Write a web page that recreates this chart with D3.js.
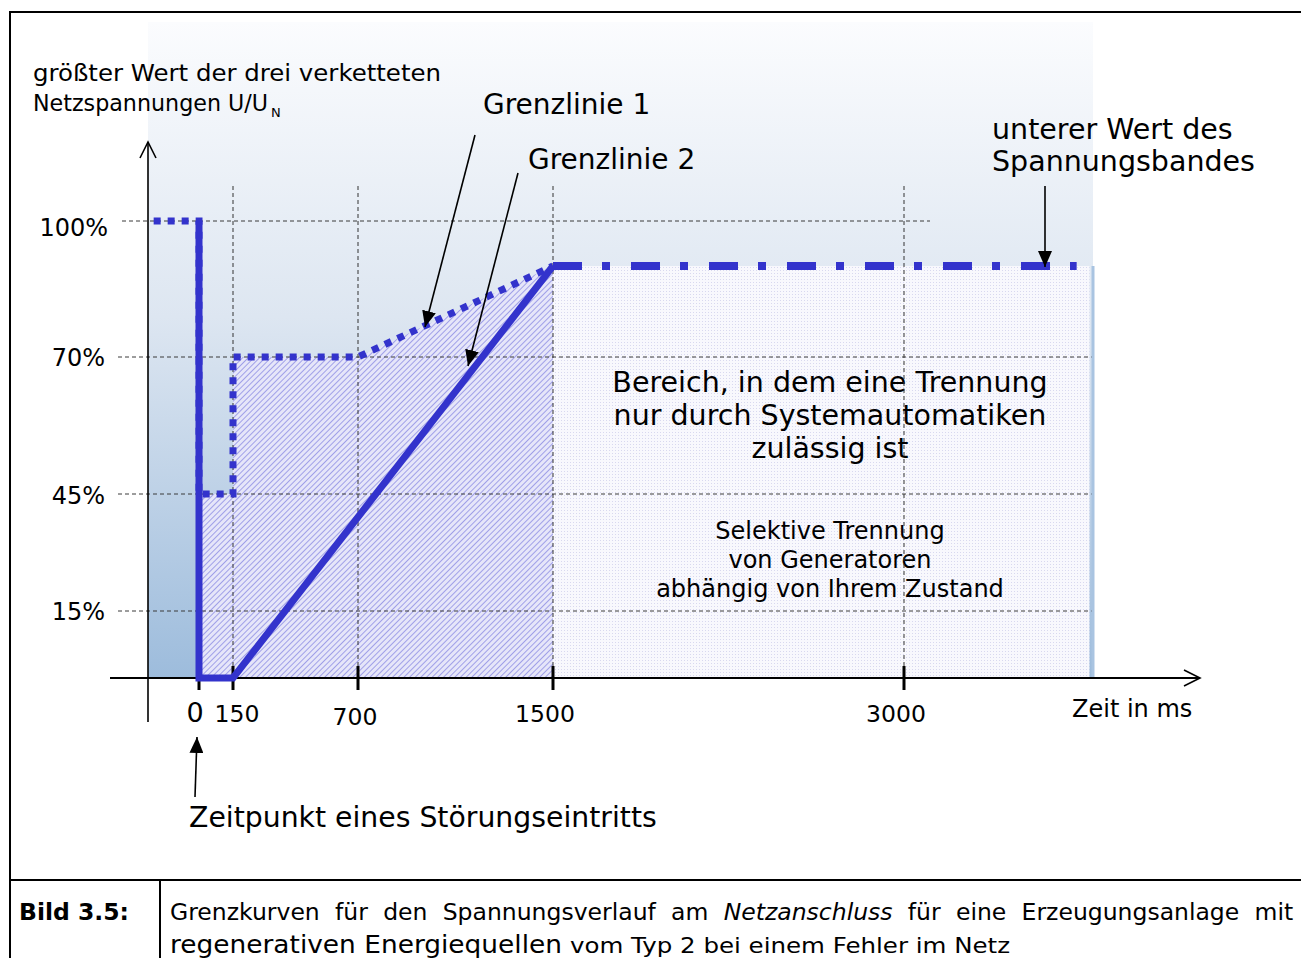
<!DOCTYPE html>
<html>
<head>
<meta charset="utf-8">
<script src="https://cdn.jsdelivr.net/npm/d3@7"></script>
<style>
  body { margin: 0; background: #fff; }
  svg { display: block; font-family: "DejaVu Sans", Verdana, sans-serif; }
</style>
</head>
<body>
<svg width="1301" height="958"></svg>
<script>
(() => {

    // time axis breakpoints (ms) and voltage axis breakpoints (% of U_N)
    var timeBreaks = [-225, 0, 150, 700, 1500, 3000, 3810];
    var voltBreaks = [0, 15, 45, 70, 90, 100];

    var timeTicks = [0, 150, 700, 1500, 3000];
    var voltTicks = [15, 45, 70, 100];

    // Grenzlinie 1 (dotted) and Grenzlinie 2 (solid), [ms, %]
    var grenzlinie1 = [[-200, 100], [0, 100], [0, 45], [150, 45], [150, 70], [700, 70], [1500, 90]];
    var grenzlinie2 = [[0, 100], [0, 0], [150, 0], [1500, 90]];
    // unterer Wert des Spannungsbandes
    var spannungsband = [[1500, 90], [3740, 90]];
    var zoneEnd = 3795;

    var svg = d3.select('svg');

    // piecewise scales, the drawing is not to scale
    var x = d3.scaleLinear().domain(timeBreaks).range([148, 199, 233, 358, 553, 904, 1093]);
    var y = d3.scaleLinear().domain(voltBreaks).range([678, 611, 494, 357, 266, 221]);

    var line = d3.line().x(d => x(d[0])).y(d => y(d[1]));
    var blue = '#3333cc';

    var defs = svg.append('defs');

    var grad = defs.append('linearGradient').attr('id', 'bg')
        .attr('x1', 0).attr('y1', 0).attr('x2', 0).attr('y2', 1);
    grad.append('stop').attr('offset', '0%').attr('stop-color', '#fbfcfe');
    grad.append('stop').attr('offset', '45%').attr('stop-color', '#dde6f1');
    grad.append('stop').attr('offset', '100%').attr('stop-color', '#9dbcdc');

    var hatch = defs.append('pattern').attr('id', 'hatch')
        .attr('patternUnits', 'userSpaceOnUse')
        .attr('width', 4).attr('height', 4)
        .attr('patternTransform', 'rotate(45)');
    hatch.append('rect').attr('width', 4).attr('height', 4).attr('fill', '#e6e6f9');
    hatch.append('line').attr('x1', 0).attr('y1', 0).attr('x2', 0).attr('y2', 4)
        .attr('stroke', '#a0a0e8').attr('stroke-width', 2);

    var dots = defs.append('pattern').attr('id', 'dots')
        .attr('patternUnits', 'userSpaceOnUse')
        .attr('width', 3).attr('height', 3);
    dots.append('rect').attr('width', 3).attr('height', 3).attr('fill', '#f8f8fd');
    dots.append('rect').attr('width', 1).attr('height', 1).attr('fill', '#d8d8ef');

    defs.append('marker').attr('id', 'head')
        .attr('markerUnits', 'userSpaceOnUse')
        .attr('markerWidth', 16).attr('markerHeight', 14)
        .attr('refX', 16).attr('refY', 7).attr('orient', 'auto')
        .append('path').attr('d', 'M0,0 L16,7 L0,14 Z').attr('fill', '#000');

    defs.append('marker').attr('id', 'open')
        .attr('markerUnits', 'userSpaceOnUse')
        .attr('markerWidth', 20).attr('markerHeight', 20)
        .attr('refX', 17).attr('refY', 9).attr('orient', 'auto')
        .append('path').attr('d', 'M1,1 L17,9 L1,17').attr('fill', 'none')
        .attr('stroke', '#000').attr('stroke-width', 1.6);

    // frame
    svg.append('rect').attr('x', 10).attr('y', 12).attr('width', 1310).attr('height', 960)
        .attr('fill', 'none').attr('stroke', '#000').attr('stroke-width', 2);
    svg.append('line').attr('x1', 10).attr('x2', 1301).attr('y1', 880).attr('y2', 880)
        .attr('stroke', '#000').attr('stroke-width', 2);
    svg.append('line').attr('x1', 160).attr('x2', 160).attr('y1', 880).attr('y2', 958)
        .attr('stroke', '#000').attr('stroke-width', 2);

    // background panel
    svg.append('rect')
        .attr('x', x(timeBreaks[0])).attr('y', 22)
        .attr('width', x(timeBreaks[timeBreaks.length - 1]) - x(timeBreaks[0]))
        .attr('height', y(0) - 22)
        .attr('fill', 'url(#bg)');

    // hatched areas under Grenzlinie 1
    var leftArea = grenzlinie1.slice(2).concat([[1500, 0], [0, 0]]);
    svg.append('path').attr('d', line(leftArea) + 'Z').attr('fill', 'url(#hatch)');
    var rightArea = [[1500, 0], [1500, 90], [zoneEnd, 90], [zoneEnd, 0]];
    svg.append('path').attr('d', line(rightArea) + 'Z').attr('fill', 'url(#dots)');

    // text inside the zone
    var zone = svg.append('g').attr('text-anchor', 'middle').attr('fill', '#000');
    ['Bereich, in dem eine Trennung', 'nur durch Systemautomatiken', 'zulässig ist'].forEach((t, i) => {
        zone.append('text').attr('x', 830).attr('y', 392 + i * 33).attr('font-size', 28.5).text(t);
    });
    ['Selektive Trennung', 'von Generatoren', 'abhängig von Ihrem Zustand'].forEach((t, i) => {
        zone.append('text').attr('x', 830).attr('y', 539 + i * 29).attr('font-size', 24).text(t);
    });

    // grid lines
    var gridH = { 100: 930, 70: 1093, 45: 1093, 15: 1093 };
    svg.selectAll('.gh').data(voltTicks).enter().append('line')
        .attr('x1', d => d == 100 ? 122 : 118).attr('x2', d => gridH[d])
        .attr('y1', d => y(d)).attr('y2', d => y(d))
        .attr('stroke', '#3a3a3a').attr('stroke-width', 1).attr('stroke-dasharray', '4,3');
    svg.selectAll('.gv').data(timeTicks.slice(1)).enter().append('line')
        .attr('x1', d => x(d)).attr('x2', d => x(d))
        .attr('y1', 186).attr('y2', y(0))
        .attr('stroke', '#333').attr('stroke-width', 1).attr('stroke-dasharray', '4,3');

    // panel right edge
    svg.append('line').attr('x1', 1093).attr('x2', 1093).attr('y1', y(90)).attr('y2', y(0))
        .attr('stroke', '#a9c4e1').attr('stroke-width', 3);

    // axes
    svg.append('line').attr('x1', 148).attr('x2', 148).attr('y1', 722).attr('y2', 142)
        .attr('stroke', '#000').attr('stroke-width', 1.6).attr('marker-end', 'url(#open)');
    svg.append('line').attr('x1', 110).attr('x2', 1200).attr('y1', y(0)).attr('y2', y(0))
        .attr('stroke', '#000').attr('stroke-width', 2).attr('marker-end', 'url(#open)');

    svg.selectAll('.tick').data(timeTicks).enter().append('line')
        .attr('x1', d => x(d)).attr('x2', d => x(d))
        .attr('y1', 666).attr('y2', 690)
        .attr('stroke', '#000').attr('stroke-width', 3);

    var tickShift = { 0: -4, 150: 4, 700: -3, 1500: -8, 3000: -8 };
    svg.selectAll('.tl').data(timeTicks).enter().append('text')
        .attr('x', d => x(d) + tickShift[d])
        .attr('y', d => d == 700 ? 725 : 722)
        .attr('text-anchor', 'middle')
        .attr('font-size', d => d == 0 ? 27 : 23.5)
        .text(d => d);

    var labelShift = { 100: 15, 70: 9, 45: 10, 15: 9 };
    svg.selectAll('.vl').data(voltTicks).enter().append('text')
        .attr('x', d => d == 100 ? 108 : 105).attr('y', d => y(d) + labelShift[d])
        .attr('text-anchor', 'end').attr('font-size', 24)
        .text(d => d + '%');

    // curves
    svg.append('path').attr('d', line(grenzlinie1))
        .attr('fill', 'none').attr('stroke', blue).attr('stroke-width', 7)
        .attr('stroke-dasharray', '7,7');
    svg.append('path').attr('d', line(grenzlinie2))
        .attr('fill', 'none').attr('stroke', blue).attr('stroke-width', 7)
        .attr('stroke-linejoin', 'miter');
    svg.append('path').attr('d', line(spannungsband))
        .attr('fill', 'none').attr('stroke', blue).attr('stroke-width', 8)
        .attr('stroke-dasharray', '29,20,8,21');

    // labels
    svg.append('text').attr('x', 33).attr('y', 81).attr('font-size', 23)
        .attr('textLength', 408).attr('lengthAdjust', 'spacingAndGlyphs')
        .text('größter Wert der drei verketteten');
    svg.append('text').attr('x', 33).attr('y', 111).attr('font-size', 23)
        .attr('textLength', 235).attr('lengthAdjust', 'spacingAndGlyphs')
        .text('Netzspannungen U/U');
    svg.append('text').attr('x', 271).attr('y', 117).attr('font-size', 13).text('N');

    svg.append('text').attr('x', 483).attr('y', 114).attr('font-size', 28).text('Grenzlinie 1');
    svg.append('text').attr('x', 528).attr('y', 169).attr('font-size', 28).text('Grenzlinie 2');
    svg.append('text').attr('x', 992).attr('y', 139).attr('font-size', 28.5).text('unterer Wert des');
    svg.append('text').attr('x', 992).attr('y', 171).attr('font-size', 28.5).text('Spannungsbandes');
    svg.append('text').attr('x', 1072).attr('y', 717).attr('font-size', 24).text('Zeit in ms');
    svg.append('text').attr('x', 189).attr('y', 827).attr('font-size', 28.3).text('Zeitpunkt eines Störungseintritts');

    // pointer arrows
    var arrows = [
        [[475, 135], [425, 327]],
        [[518, 173], [468, 366]],
        [[1045, 186], [1045, 267]],
        [[195, 797], [197, 737]]
    ];
    svg.selectAll('.arr').data(arrows).enter().append('line')
        .attr('x1', d => d[0][0]).attr('y1', d => d[0][1])
        .attr('x2', d => d[1][0]).attr('y2', d => d[1][1])
        .attr('stroke', '#000').attr('stroke-width', 1.6)
        .attr('marker-end', 'url(#head)');

    // caption
    svg.append('text').attr('x', 19).attr('y', 920).attr('font-size', 23)
        .attr('font-weight', 'bold').attr('textLength', 110).attr('lengthAdjust', 'spacingAndGlyphs')
        .text('Bild 3.5:');
    var cap = svg.append('text').attr('x', 170).attr('y', 920).attr('font-size', 23.5);
    cap.append('tspan').text('Grenzkurven für den Spannungsverlauf am ');
    cap.append('tspan').attr('font-style', 'italic').text('Netzanschluss');
    cap.append('tspan').text(' für eine Erzeugungsanlage mit');
    // justify by widening the word gaps
    var natural = cap.node().getComputedTextLength();
    cap.attr('word-spacing', Math.max(0, (1131 - natural) / 10));

    var cap2 = svg.append('text').attr('x', 170).attr('y', 953);
    cap2.append('tspan').attr('font-size', 25).attr('textLength', 392).attr('lengthAdjust', 'spacingAndGlyphs')
        .text('regenerativen Energiequellen');
    cap2.append('tspan').attr('font-size', 22).attr('x', 570).attr('textLength', 440).attr('lengthAdjust', 'spacingAndGlyphs')
        .text('vom Typ 2 bei einem Fehler im Netz');

})();
</script>
</body>
</html>
